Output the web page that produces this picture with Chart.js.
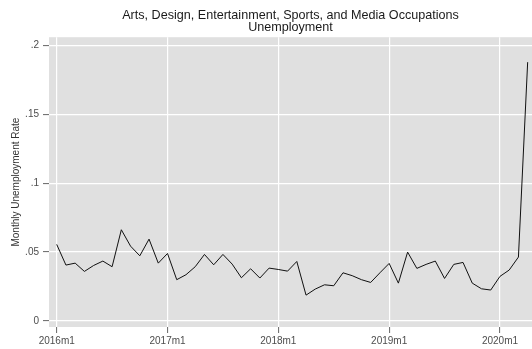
<!DOCTYPE html>
<html>
<head>
<meta charset="utf-8">
<script src="https://cdn.jsdelivr.net/npm/chart.js@4.4.1/dist/chart.umd.min.js"></script>
<style>
  body { margin: 0; background: #fff; }
  #wrap { width: 532px; height: 349px; }
</style>
</head>
<body>
<div id="wrap"><canvas id="lineChart"></canvas></div>
<script>
// monthly rates, 2016m1 .. 2020m4
const rates = [
  0.0556, 0.0406, 0.0420, 0.0360, 0.0403, 0.0435, 0.0394, 0.0662, 0.0543, 0.0473, 0.0594, 0.0420,
  0.0490, 0.0300, 0.0336, 0.0394, 0.0483, 0.0408, 0.0483, 0.0413, 0.0314, 0.0379, 0.0312, 0.0384,
  0.0374, 0.0362, 0.0432, 0.0188, 0.0232, 0.0263, 0.0256, 0.0350, 0.0329, 0.0300, 0.0280, 0.0350,
  0.0418, 0.0275, 0.0500, 0.0382, 0.0411, 0.0435, 0.0309, 0.0411, 0.0425, 0.0275, 0.0234, 0.0225,
  0.0324, 0.0370, 0.0464, 0.1877
];
const xTickPos = [0, 12, 24, 36, 48];
const xTickLabels = ['2016m1', '2017m1', '2018m1', '2019m1', '2020m1'];
const yTickPos = [0, 0.05, 0.1, 0.15, 0.2];
const yTickLabels = ['0', '.05', '.1', '.15', '.2'];

const font = 'Liberation Sans, Arial, Helvetica, sans-serif';

const plotBg = {
    id: 'plotBg',
    beforeDraw(chart) {
        const a = chart.chartArea;
        const c = chart.ctx;
        c.save();
        c.fillStyle = '#e0e0e0';
        c.fillRect(a.left, a.top, a.right - a.left, a.bottom - a.top);
        c.restore();
    }
};

const ctx = document.getElementById('lineChart').getContext('2d');
new Chart(ctx, {
    type: 'line',
    data: {
        datasets: [{
            data: rates.map((v, i) => ({ x: i, y: v })),
            borderColor: '#111',
            borderWidth: 1,
            pointRadius: 0,
            tension: 0,
            fill: false
        }]
    },
    options: {
        responsive: true,
        maintainAspectRatio: false,
        animation: false,
        layout: { padding: 0 },
        plugins: {
            legend: { display: false },
            tooltip: { enabled: false },
            title: {
                display: true,
                fullSize: false,
                text: ['Arts, Design, Entertainment, Sports, and Media Occupations', 'Unemployment'],
                color: '#1a1a1a',
                font: { family: font, size: 12.6, weight: 'normal', lineHeight: 0.96 },
                padding: { top: 9, bottom: 4 }
            }
        },
        scales: {
            x: {
                type: 'linear',
                min: -0.834,
                max: 51.47,
                afterFit: s => { s.height = 22; },
                afterBuildTicks: s => { s.ticks = xTickPos.map(v => ({ value: v })); },
                border: { display: false },
                grid: { color: '#ffffff', lineWidth: 1.2, tickLength: 6, tickColor: '#666', tickWidth: 1 },
                ticks: {
                    autoSkip: false,
                    maxRotation: 0,
                    padding: 2,
                    color: '#4d4d4d',
                    font: { family: font, size: 10 },
                    callback: v => xTickLabels[xTickPos.indexOf(v)]
                }
            },
            y: {
                min: -0.0043,
                max: 0.2058,
                afterFit: s => { s.width = 49; },
                afterBuildTicks: s => { s.ticks = yTickPos.map(v => ({ value: v })); },
                border: { display: false },
                grid: { color: '#ffffff', lineWidth: 1.2, tickLength: 6, tickColor: '#666', tickWidth: 1 },
                ticks: {
                    padding: 4,
                    color: '#4d4d4d',
                    font: { family: font, size: 10 },
                    callback: v => yTickLabels[yTickPos.indexOf(v)]
                },
                title: {
                    display: true,
                    text: 'Monthly Unemployment Rate',
                    color: '#333',
                    font: { family: font, size: 10 },
                    padding: { top: 10, bottom: 0 }
                }
            }
        }
    },
    plugins: [plotBg]
});
</script>
</body>
</html>
